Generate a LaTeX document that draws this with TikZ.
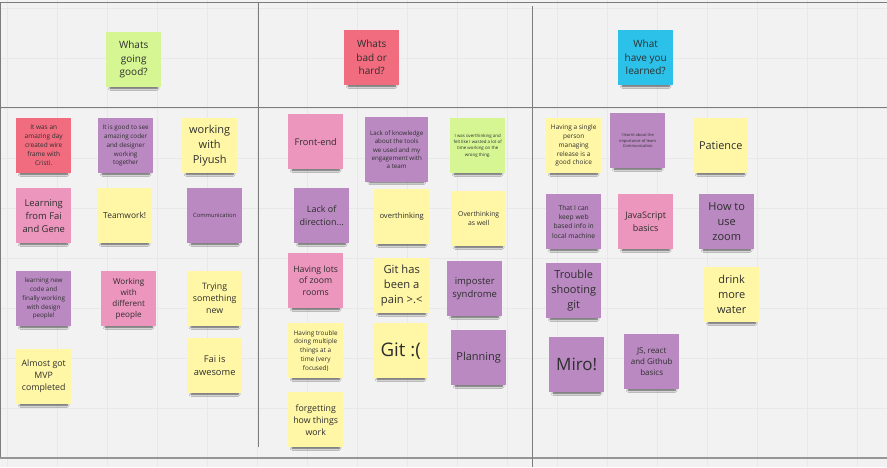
\documentclass[tikz,border=0pt]{standalone}
\usepackage{fontspec}
\setmainfont{Open Sans}
\usetikzlibrary{shadows.blur}

\definecolor{board}{HTML}{F2F2F2}
\definecolor{gridc}{HTML}{E8E8E8}
\definecolor{framec}{HTML}{7C7C7C}
\definecolor{ink}{HTML}{2E2E2E}
\definecolor{noteyel}{HTML}{FFF7A6}
\definecolor{notepur}{HTML}{BA89C2}
\definecolor{notepink}{HTML}{EC95BD}
\definecolor{notered}{HTML}{F16C7F}
\definecolor{notegreen}{HTML}{D5F693}
\definecolor{noteblue}{HTML}{2CC1E8}

\newcommand{\nf}[2]{\fontsize{#1}{#2}\selectfont}

\tikzset{
	note/.style={anchor=north west, minimum width=55, minimum height=55, inner sep=1, align=center, text=ink,
		blur shadow={shadow xshift=0pt, shadow yshift=-6pt, shadow scale=0.85, shadow blur radius=2.5pt, shadow blur steps=6, shadow opacity=70}},
	yel/.style={note, fill=noteyel},
	pur/.style={note, fill=notepur},
	pinknote/.style={note, fill=notepink},
	rednote/.style={note, fill=notered},
	greennote/.style={note, fill=notegreen},
	bluenote/.style={note, fill=noteblue},
	gridline/.style={gridc, line width=0.8},
	frameline/.style={framec, line width=1}
}

\begin{document}
\begin{tikzpicture}[x=1pt,y=-1pt]
				\useasboundingbox (0,0) rectangle (887,467);
				\fill[board] (0,0) rectangle (887,467);
				% board grid
				\foreach \x in {7,57,...,857}
					\draw[gridline] (\x,0) -- (\x,467);
				\foreach \y in {8,58,...,458}
					\draw[gridline] (0,\y) -- (887,\y);
				% frame
				\draw[frameline] (0,2) -- (887,2);
				\draw[frameline] (0.5,2) -- (0.5,458);
				\draw[frameline, line width=1.3] (0,107.5) -- (887,107.5);
				\draw[framec!80, line width=1.6] (0,458) -- (887,458);
				\draw[frameline] (258.5,2) -- (258.5,447);
				\draw[frameline] (532,6) -- (532,467);

			% headers
			\node[greennote, font=\nf{10}{13.5}] (goodHead) at (106,32) {Whats\\going\\good?};
			\node[rednote, font=\nf{10}{13.5}] (badHead) at (344,30) {Whats\\bad or\\hard?};
			\node[bluenote, font=\nf{10}{13.5}] (learnHead) at (618,30) {What\\have you\\learned?};

			% whats going good
			\node[rednote, font=\nf{6.5}{9}] (good1) at (16,118) {It was an\\amazing day\\created wire\\frame with\\Cristi.};
			\node[pur, font=\nf{6.3}{8.7}] (good2) at (98,118) {It is good to see\\amazing coder\\and designer\\working\\together};
			\node[yel, font=\nf{11}{15}] (good3) at (182,118) {working\\with\\Piyush};
			\node[pinknote, font=\nf{9.4}{13}] (good4) at (16,188) {Learning\\from Fai\\and Gene};
			\node[yel, font=\nf{8.4}{11}] (good5) at (97,188) {Teamwork!};
			\node[pur, font=\nf{5.8}{8}] (good6) at (187,188) {Communication};
			\node[pur, font=\nf{6.3}{8.7}] (good7) at (16,271) {learning new\\code and\\finally working\\with design\\people!};
			\node[pinknote, font=\nf{8.1}{11}] (good8) at (101,271) {Working\\with\\different\\people};
			\node[yel, font=\nf{8.8}{12}] (good9) at (187,271) {Trying\\something\\new};
			\node[yel, font=\nf{8.8}{12}] (good10) at (16,349) {Almost got\\MVP\\completed};
			\node[yel, font=\nf{9.3}{12.7}] (good11) at (187,338) {Fai is\\awesome};

			% whats bad or hard
			\node[pinknote, font=\nf{9.2}{12}] (bad1) at (288,114) {Front-end};
			\node[pur, minimum width=63, minimum height=65, font=\nf{6.2}{8.4}] (bad2) at (365,117) {Lack of knowledge\\about the tools\\we used and my\\engagement with\\a team};
			\node[greennote, font=\nf{4.4}{6.2}] (bad3) at (450,118) {I was overthinking and\\felt like I wasted a lot of\\time working on the\\wrong thing.};
			\node[pur, font=\nf{9}{12.3}] (bad4) at (294,188) {Lack of\\direction...};
			\node[yel, font=\nf{7.6}{10}] (bad5) at (374,189) {overthinking};
			\node[yel, font=\nf{6.8}{9.3}] (bad6) at (451,191) {Overthinking\\as well};
			\node[pinknote, font=\nf{8.7}{11.8}] (bad7) at (288,253) {Having lots\\of zoom\\rooms};
			\node[yel, font=\nf{11.2}{15.3}] (bad8) at (374,258) {Git has\\been a\\pain >.<};
			\node[pur, font=\nf{9.5}{13}] (bad9) at (447,261) {imposter\\syndrome};
			\node[yel, font=\nf{6.4}{8.8}] (bad10) at (288,323) {Having trouble\\doing multiple\\things at a\\time (very\\focused)};
			\node[yel, font=\nf{18.7}{22}] (bad11) at (373,323) {Git :(};
			\node[pur, font=\nf{11}{14}] (bad12) at (451,330) {Planning};
			\node[yel, font=\nf{8.8}{12}] (bad13) at (288,392) {forgetting\\how things\\work};

			% what have you learned
			\node[yel, font=\nf{6.5}{8.8}] (learn1) at (546,118) {Having a single\\person\\managing\\release is a\\good choice};
			\node[pur, font=\nf{4}{5.5}] (learn2) at (610,113) {I learnt about the\\importance of team\\Communication};
			\node[yel, font=\nf{10.9}{14}] (learn3) at (693,118) {Patience};
			\node[pur, font=\nf{6.7}{9.2}] (learn4) at (546,194) {That I can\\keep web\\based info in\\local machine};
			\node[pinknote, font=\nf{9}{12.3}] (learn5) at (618,194) {JavaScript\\basics};
			\node[pur, font=\nf{11}{15}] (learn6) at (699,194) {How to\\use\\zoom};
			\node[pur, font=\nf{11}{15}] (learn7) at (546,263) {Trouble\\shooting\\git};
			\node[yel, font=\nf{11}{15}] (learn8) at (704,267) {drink\\more\\water};
			\node[pur, font=\nf{17}{20}] (learn9) at (549,337) {Miro!};
			\node[pur, font=\nf{8}{10.8}] (learn10) at (624,334) {JS, react\\and Github\\basics};
			\end{tikzpicture}
\end{document}
